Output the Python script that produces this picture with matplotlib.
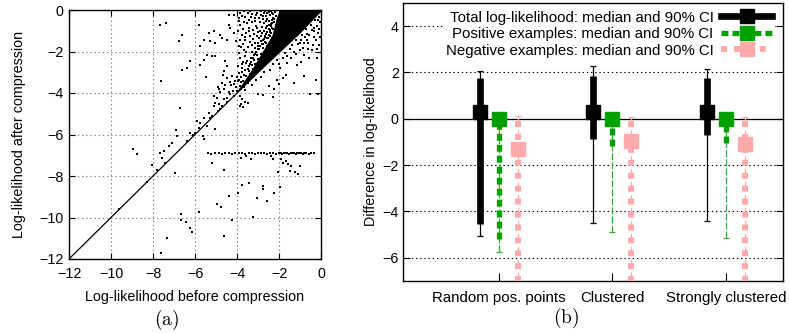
import numpy as np
import matplotlib
matplotlib.use("Agg")
from matplotlib import pyplot as plt
from matplotlib.lines import Line2D

plt.rcParams["font.family"] = ["Liberation Sans", "DejaVu Sans"]
plt.rcParams["mathtext.fontset"] = "cm"
plt.rcParams["lines.scale_dashes"] = False

# ---- panel (a): log-likelihood before / after compression ----
diag_x = [-12.0, 0.0]
diag_y = [-12.0, 0.0]

# outline of the solid black core of the point cloud
core_x = [-3.95, -3.0, -2.0, -1.0, 0.0, 0.0, -1.95, -2.1, -2.3, -2.75, -3.35, -3.95]
core_y = [-3.98, -3.05, -2.1, -1.15, -0.1, 0.0, 0.0, -0.4, -1.2, -2.0, -3.0, -3.88]

fringe_pts = [
    (-2.05, -0.02), (-2.2, -0.1), (-1.95, -0.22), (-2.12, -0.3), (-2.3, -0.38), (-2.05, -0.48),
    (-2.25, -0.58), (-2.4, -0.66), (-2.12, -0.72), (-2.32, -0.85), (-2.5, -0.92), (-2.2, -0.98),
    (-2.42, -1.08), (-2.6, -1.15), (-2.3, -1.28), (-2.52, -1.35), (-2.7, -1.42), (-2.4, -1.5),
    (-2.62, -1.58), (-2.8, -1.66), (-2.55, -1.75), (-2.75, -1.82), (-2.95, -1.9), (-2.7, -2.02),
    (-2.88, -2.1), (-3.05, -2.18), (-2.8, -2.25), (-3.0, -2.35), (-3.18, -2.42), (-2.92, -2.5),
    (-3.12, -2.58), (-3.3, -2.66), (-3.05, -2.74), (-3.25, -2.84), (-3.42, -2.92), (-3.2, -3.0),
    (-3.38, -3.1), (-3.55, -3.18), (-3.35, -3.26), (-3.52, -3.36), (-3.7, -3.44), (-3.5, -3.5),
    (-3.68, -3.6), (-3.85, -3.66), (-3.65, -3.72), (-3.82, -3.8), (-3.98, -3.9),
    (-0.1, -0.35), (-0.3, -0.5), (-0.2, -0.75), (-0.5, -0.7), (-0.45, -0.95), (-0.7, -0.9),
    (-0.65, -1.15), (-0.9, -1.2), (-0.95, -1.45), (-1.2, -1.45), (-1.1, -1.65), (-1.4, -1.7),
    (-1.5, -1.9), (-1.7, -2.05), (-1.8, -2.3), (-2.1, -2.4), (-2.3, -2.6), (-2.45, -2.9),
    (-2.7, -3.0), (-2.85, -3.25), (-3.1, -3.35), (-3.3, -3.6), (-3.6, -3.85), (-0.05, -0.6),
    (-0.15, -1.1), (-0.35, -1.3), (-0.6, -1.6), (-0.85, -1.85), (-1.2, -2.1), (-0.25, -0.2),
    (-0.1, -0.9), (-0.25, -1.45), (-0.4, -1.7), (-0.55, -1.2), (-0.75, -1.3), (-0.2, -1.9),
    (-0.05, -1.3), (-0.35, -0.85), (-0.15, -0.5), (-0.6, -1.9), (-1.0, -1.95), (-1.3, -2.0),
    (-1.6, -2.2), (-2.0, -2.6), (-1.0, -1.6), (-0.8, -1.6),
]

cloud_pts = [
    (-3.92, -0.39), (-3.84, -0.71), (-3.68, -0.06), (-3.52, -0.63), (-3.44, -0.87), (-3.76, -1.19),
    (-3.60, -1.43), (-3.36, -1.27), (-3.92, -1.75), (-3.68, -1.91), (-3.28, -1.67), (-3.84, -2.31),
    (-3.52, -2.47), (-3.20, -2.15), (-3.76, -2.79), (-3.44, -2.71), (-3.12, -0.39), (-3.04, -0.87),
    (-2.88, -0.22), (-2.72, -0.62), (-3.2, -0.02), (-2.56, -0.14), (-2.96, -1.35), (-2.80, -1.11),
    (-2.64, -0.87), (-2.48, -0.54), (-2.40, -0.06), (-3.12, -1.83), (-3.95, -3.43),
    (-2.6, -0.3), (-2.45, -0.95), (-2.75, -0.45), (-2.9, -0.6), (-3.3, -0.2), (-3.6, -0.35),
    (-3.0, -1.05), (-3.25, -1.4), (-3.45, -0.5), (-3.7, -0.9), (-3.15, -1.6), (-2.85, -1.25),
    (-3.55, -2.0), (-3.35, -2.3), (-3.7, -2.5), (-3.9, -3.05), (-3.62, -2.9), (-3.8, -3.25),
    (-2.65, -0.05), (-2.95, -0.02), (-3.4, -0.05), (-3.85, -0.15), (-2.55, -0.75), (-2.35, -0.15),
    (-3.1, -0.75),
    (-2.45, -0.25), (-2.6, -0.55), (-2.5, -1.2), (-2.7, -0.15), (-2.8, -0.8), (-2.9, -1.0),
    (-2.65, -1.3), (-2.95, -0.4), (-3.05, -0.15), (-3.15, -0.55), (-3.25, -0.95), (-3.35, -0.35),
    (-3.5, -0.15), (-3.05, -1.25), (-3.2, -1.15), (-3.4, -1.55), (-3.55, -1.1), (-3.65, -0.6),
    (-3.75, -0.3), (-3.9, -0.55), (-3.95, -1.0), (-3.85, -1.45), (-3.7, -1.65), (-3.5, -1.8),
    (-3.3, -2.0), (-3.6, -2.2), (-3.9, -2.05), (-3.75, -2.6), (-3.95, -2.7), (-2.55, -0.45),
    (-2.7, -1.0), (-2.85, -1.5), (-3.0, -1.6), (-2.45, -1.25), (-2.35, -0.5), (-2.3, -0.9),
    (-2.5, -0.1), (-2.75, -0.3), (-2.85, -0.05), (-3.1, -0.25), (-3.3, -0.6), (-3.45, -1.0),
    (-3.6, -1.3), (-3.8, -1.8), (-3.55, -2.55), (-3.75, -3.0), (-3.9, -3.35), (-3.35, -2.5),
    (-3.15, -2.1), (-3.0, -1.9), (-2.9, -1.75), (-2.75, -1.65), (-2.65, -1.55), (-2.55, -1.35),
    (-2.4, -1.1), (-2.38, -0.78), (-2.28, -0.2), (-2.22, -0.42), (-2.32, -0.62), (-2.48, -0.72),
    (-2.58, -1.05), (-2.68, -1.25), (-2.78, -1.45), (-2.98, -1.72), (-3.08, -2.0), (-3.22, -2.32),
    (-3.38, -2.6), (-3.5, -2.85), (-3.68, -3.15), (-3.82, -3.45),
    (-7.66, -0.74), (-7.37, -0.61), (-6.62, -1.19), (-6.75, -1.51), (-5.80, -0.70), (-5.35, -1.11),
    (-5.11, -0.99), (-5.27, -1.51), (-5.03, -1.59), (-4.79, -1.19), (-4.71, -1.35), (-4.50, -1.43),
    (-5.59, -1.43), (-5.75, -1.75), (-4.39, -0.71), (-4.31, -0.87), (-4.15, -0.22), (-4.15, -1.11),
    (-4.07, -1.51), (-6.23, -2.47), (-6.39, -2.79), (-6.62, -2.87), (-7.63, -3.40), (-5.59, -2.39),
    (-5.43, -2.15), (-5.19, -2.20), (-5.03, -2.23), (-4.55, -2.47), (-4.63, -2.95), (-4.47, -2.71),
    (-5.46, -3.24), (-5.75, -2.63), (-4.87, -3.83), (-4.39, -0.24),
    (-4.9, -3.7), (-4.7, -3.5), (-4.5, -3.3), (-4.6, -3.8), (-4.3, -3.6), (-4.2, -3.9),
    (-4.4, -3.95), (-4.1, -3.4), (-4.25, -3.2), (-4.05, -3.7), (-4.8, -3.95), (-4.55, -3.6),
    (-4.35, -3.45), (-4.15, -3.55), (-4.0, -3.25), (-4.65, -3.15),
]

outlier_pts = [
    (-6.70, -4.71), (-6.90, -5.78), (-6.86, -6.07), (-7.10, -6.39), (-7.26, -6.55), (-7.50, -6.79),
    (-7.66, -6.87), (-7.58, -7.12), (-7.42, -7.36), (-6.94, -7.84), (-6.23, -5.91), (-5.99, -5.91),
    (-5.91, -5.35), (-5.75, -5.43), (-5.59, -5.19), (-5.43, -5.59), (-5.35, -4.95), (-5.59, -6.23),
    (-5.62, -6.07), (-5.11, -4.63), (-5.03, -4.47), (-4.87, -4.55), (-4.79, -4.79), (-4.95, -4.23),
    (-4.63, -4.31), (-4.47, -4.23), (-4.31, -4.07), (-4.15, -4.15), (-5.19, -5.11), (-5.03, -5.75),
    (-4.71, -4.63), (-5.11, -4.15), (-8.94, -6.68), (-8.75, -6.92), (-8.03, -7.45), (-6.4, -6.3),
    (-6.1, -6.0), (-5.8, -5.7), (-5.3, -5.2), (-4.9, -4.85), (-4.5, -4.45), (-9.6, -9.6),
    (-8.3, -8.3), (-7.8, -7.7),
    (-5.19, -7.39), (-4.63, -7.71),
    (-3.88, -4.15), (-3.77, -4.31), (-3.83, -4.55), (-3.64, -4.44), (-3.48, -4.47), (-3.72, -4.66),
    (-3.88, -4.63), (-3.00, -4.07), (-2.76, -4.12), (-2.29, -4.18), (-0.53, -4.04), (-0.13, -4.04),
    (-3.80, -7.12), (-3.56, -7.04), (-3.35, -7.16), (-2.37, -7.04), (-2.29, -7.19), (-1.89, -7.19),
    (-1.81, -7.35), (-1.65, -7.27), (-1.57, -7.43), (-1.41, -7.51), (-1.49, -7.75), (-1.25, -7.83),
    (-1.01, -7.51), (-1.09, -7.92), (-2.05, -7.83),
    (-6.66, -9.82), (-6.69, -10.14), (-6.42, -10.22), (-6.23, -10.51), (-6.13, -10.70), (-7.33, -11.0),
    (-7.61, -11.7), (-5.81, -9.74), (-4.93, -9.37), (-4.77, -9.50), (-4.38, -8.94), (-4.25, -10.11),
    (-4.61, -10.87), (-3.93, -8.81), (-3.74, -8.41), (-3.45, -8.33), (-2.78, -8.49), (-2.78, -8.62),
    (-3.07, -9.07), (-2.59, -9.21), (-2.22, -8.81), (-3.26, -9.98), (-1.95, -8.54),
    (-0.81, -2.15), (-0.57, -2.31), (-0.17, -2.31), (-1.13, -2.63), (-1.69, -3.11), (-0.81, -3.19),
    (-0.25, -3.35), (-1.29, -3.51), (-2.01, -3.59), (-2.25, -3.83), (-1.61, -2.55), (-1.45, -2.31),
    (-1.93, -2.79), (-0.33, -1.03), (-0.09, -1.67), (-0.65, -1.43), (-2.09, -3.35), (-2.48, -3.67),
    (-0.45, -1.95), (-0.95, -2.5), (-1.8, -3.3),
]

band_x = [-5.40, -5.22, -5.05, -4.88, -4.72, -4.55, -4.40,
          -4.24, -4.08, -3.92, -3.76, -3.60, -3.45, -3.30,
          -3.15, -3.00, -2.85, -2.70, -2.58, -2.45, -2.30,
          -2.15, -2.02, -1.92, -1.84, -1.76, -1.68, -1.60,
          -1.52, -1.44, -1.36, -1.28, -1.20, -1.12, -1.04,
          -0.96, -0.88, -0.80, -0.70, -0.58, -0.46, -0.35]
band_y = [-6.90, -6.92, -6.91, -6.89, -6.92, -6.90, -6.91,
          -6.93, -6.90, -6.91, -6.89, -6.92, -6.91, -6.90,
          -6.92, -6.91, -6.90, -6.89, -6.92, -6.91, -6.90,
          -6.93, -6.91, -6.90, -6.92, -6.89, -6.91, -6.90,
          -6.92, -6.91, -6.90, -6.91, -6.93, -6.90, -6.91,
          -6.89, -6.92, -6.90, -6.91, -6.92, -6.90, -6.91]

# ---- panel (b): difference in log-likelihood ----
categories = ["Random pos. points", "Clustered", "Strongly clustered"]

total_median = [0.3, 0.3, 0.3]
total_inner_lo = [-4.55, -0.87, -0.7]
total_inner_hi = [1.75, 1.87, 1.78]
total_ci_lo = [-5.05, -4.48, -4.43]
total_ci_hi = [2.05, 2.3, 2.13]

pos_median = [0.0, 0.0, 0.0]
pos_inner_lo = [-5.2, -1.17, -1.05]
pos_inner_hi = [0.0, 0.0, 0.0]
pos_ci_lo = [-5.75, -4.87, -5.13]
pos_ci_hi = [0.05, 0.05, 0.05]

neg_median = [-1.3, -0.96, -1.08]
neg_inner_lo = [-7.6, -7.6, -7.6]
neg_inner_hi = [0.13, 0.1, 0.1]
neg_ci_lo = [-8.0, -8.0, -8.0]
neg_ci_hi = [0.13, 0.1, 0.1]

W, H = 789, 333
fig = plt.figure(figsize=(W / 100, H / 100), dpi=100)


def add_axes_px(left, top, right, bottom):
    return fig.add_axes([left / W, 1 - bottom / H, (right - left) / W, (bottom - top) / H])


# ------------------------------------------------------------------ (a)
ax = add_axes_px(69, 10, 321, 259)
ax.set_axisbelow(True)
ax.grid(True, linestyle=(0, (1, 2)), color="#808080", linewidth=0.8)
ax.fill(core_x, core_y, color="black", linewidth=0, zorder=2)
ax.plot(diag_x, diag_y, color="black", linewidth=0.9, zorder=3)
for pts in (fringe_pts, cloud_pts, outlier_pts):
    arr = np.array(pts)
    ax.scatter(arr[:, 0], arr[:, 1], s=2.2, marker="s", color="black", linewidths=0, zorder=3)
ax.scatter(band_x, band_y, s=2.2, marker="s", color="black", linewidths=0, zorder=3)

ax.set_xlim(-12, 0)
ax.set_ylim(-12, 0)
ax.set_xticks(np.arange(-12, 1, 2))
ax.set_yticks(np.arange(-12, 1, 2))
ax.tick_params(direction="in", top=True, right=True, length=4.5, width=0.8, labelsize=10.3)
ax.tick_params(axis="x", pad=6)
ax.tick_params(axis="y", pad=4)
for sp in ax.spines.values():
    sp.set_linewidth(1.0)
ax.set_xlabel("Log-likelihood before compression", fontsize=10.3)
ax.set_ylabel("Log-likelihood after compression", fontsize=10.3)
ax.xaxis.set_label_coords(0.5, (259 - 297) / 249)
ax.xaxis.label.set_va("center")
ax.yaxis.set_label_coords((19 - 69) / 252, 0.5)
ax.yaxis.label.set_va("center")
fig.text(167 / W, 1 - 320 / H, r"$\mathrm{(a)}$", fontsize=14, ha="center", va="center")

# ------------------------------------------------------------------ (b)
green = "#00a000"
pink = "#ffaaaa"
offset = 0.167

ax2 = add_axes_px(403, 3, 783, 281)
ax2.set_axisbelow(True)
ax2.yaxis.grid(True, linestyle=(0, (1, 2)), color="black", linewidth=0.8)
ax2.axhline(0, color="black", linewidth=0.9, zorder=1)

pos = np.arange(1, len(categories) + 1)
series = [
    (pos - offset, total_median, total_inner_lo, total_inner_hi, total_ci_lo, total_ci_hi,
     "black", 4.8, "solid", "black", "solid"),
    (pos, pos_median, pos_inner_lo, pos_inner_hi, pos_ci_lo, pos_ci_hi,
     green, 3.8, (0, (5, 2.9)), "#30b030", (0, (5, 1.5))),
    (pos + offset, neg_median, neg_inner_lo, neg_inner_hi, neg_ci_lo, neg_ci_hi,
     pink, 4.3, (0, (4.3, 5)), pink, (0, (4.3, 5))),
]
for xs, med, ilo, ihi, clo, chi, col, lw, ls, thin_col, thin_ls in series:
    ax2.vlines(xs, clo, chi, color=thin_col, linewidth=0.9, linestyles=thin_ls, zorder=3)
    ax2.plot(xs, clo, linestyle="none", marker="_", markersize=5, markeredgewidth=0.9,
             color=thin_col, zorder=3)
    ax2.plot(xs, chi, linestyle="none", marker="_", markersize=5, markeredgewidth=0.9,
             color=thin_col, zorder=3)
    ax2.vlines(xs, ilo, ihi, color=col, linewidth=lw, linestyles=ls, zorder=4)
    ax2.plot(xs, med, linestyle="none", marker="s", markersize=9.5, color=col, zorder=5)

ax2.set_xlim(0.16, 3.5)
ax2.set_ylim(-7, 5)
ax2.set_xticks(pos)
ax2.set_xticklabels(categories)
ax2.set_yticks([-6, -4, -2, 0, 2, 4])
ax2.tick_params(axis="x", direction="in", top=False, length=6, width=0.8, labelsize=10.8, pad=7)
ax2.tick_params(axis="y", direction="in", right=True, length=5, width=0.8, labelsize=10.3, pad=3)
for sp in ax2.spines.values():
    sp.set_linewidth(1.0)
ax2.set_ylabel("Difference in log-likelihood", fontsize=10.3)
ax2.yaxis.set_label_coords((371 - 403) / 380, 0.5)
ax2.yaxis.label.set_va("center")

handles = [
    Line2D([], [], color="black", linewidth=4.8, marker="s", markersize=9.5),
    Line2D([], [], color=green, linewidth=3.8, linestyle=(0, (5, 2.9)), marker="s", markersize=9.5),
    Line2D([], [], color=pink, linewidth=4.3, linestyle=(0, (4.3, 5)), marker="s", markersize=9.5),
]
labels = ["Total log-likelihood: median and 90% CI",
          "Positive examples: median and 90% CI",
          "Negative examples: median and 90% CI"]
leg = ax2.legend(handles, labels, loc="upper right", bbox_to_anchor=((775 - 403) / 380, (281 - 7.7) / 278),
                 borderaxespad=0, markerfirst=False, numpoints=1, fontsize=10.8, handlelength=3.4,
                 handletextpad=0.5, labelspacing=0.16, borderpad=0.2, fancybox=False, framealpha=1,
                 facecolor="white", edgecolor="none")
leg.set_zorder(10)
fig.text(566 / W, 1 - 318 / H, r"$\mathrm{(b)}$", fontsize=14, ha="center", va="center")

fig.savefig("out.png", dpi=100)
